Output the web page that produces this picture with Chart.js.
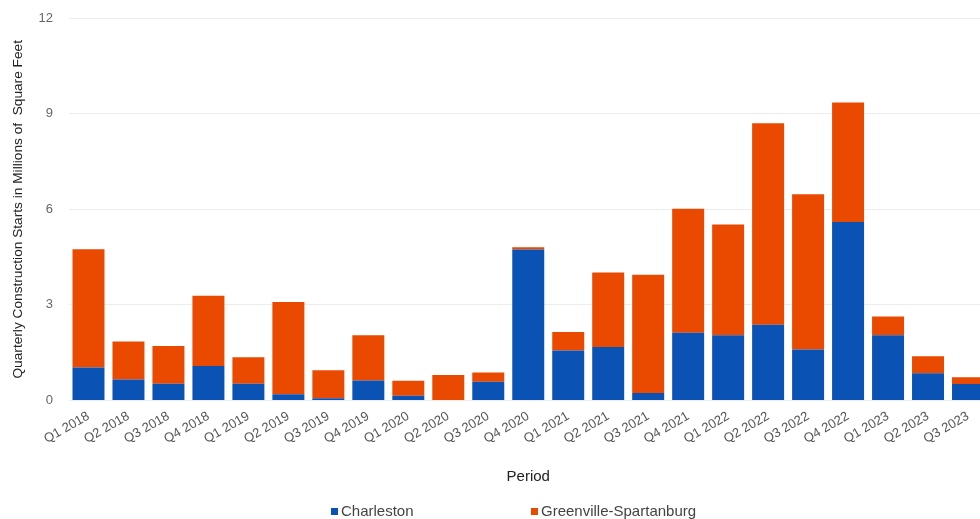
<!DOCTYPE html>
<html>
<head>
<meta charset="utf-8">
<script src="https://cdn.jsdelivr.net/npm/chart.js@4/dist/chart.umd.min.js"></script>
<style>
  html, body { margin: 0; padding: 0; background: #fff; overflow: hidden; width: 980px; height: 519px; }
  #wrap { position: relative; width: 992px; height: 519px; }
  #legend { position: absolute; top: 502px; left: 0; width: 980px; font-family: "Liberation Sans", Arial, sans-serif; font-size: 15px; color: #444; }
  .item { position: absolute; top: 0; white-space: nowrap; }
  .sw { display: inline-block; width: 7px; height: 7px; margin-right: 3px; vertical-align: 1px; }
</style>
</head>
<body>
<div id="wrap">
  <canvas id="c" width="992" height="519"></canvas>
  <div id="legend"></div>
</div>
<script>
const categories = ["Q1 2018","Q2 2018","Q3 2018","Q4 2018","Q1 2019","Q2 2019","Q3 2019","Q4 2019",
  "Q1 2020","Q2 2020","Q3 2020","Q4 2020","Q1 2021","Q2 2021","Q3 2021","Q4 2021",
  "Q1 2022","Q2 2022","Q3 2022","Q4 2022","Q1 2023","Q2 2023","Q3 2023"];
const charleston = [1.04,0.66,0.53,1.08,0.53,0.20,0.07,0.63,0.15,0.00,0.59,4.74,1.57,1.68,0.24,2.13,2.05,2.38,1.60,5.60,2.05,0.86,0.52];
const greenville = [3.71,1.19,1.18,2.21,0.83,2.89,0.88,1.42,0.47,0.80,0.29,0.07,0.58,2.34,3.71,3.89,3.47,6.32,4.87,3.75,0.59,0.53,0.21];
const yTicks = [0,3,6,9,12];
const seriesNames = ["Charleston","Greenville-Spartanburg"];
const seriesColors = ["#0b52b5","#e94a00"];

const FONT = "'Liberation Sans', Arial, sans-serif";
new Chart(document.getElementById('c'), {
  type: 'bar',
  data: {
    labels: categories,
    datasets: [
      { label: seriesNames[0], data: charleston, backgroundColor: seriesColors[0], borderWidth: 0 },
      { label: seriesNames[1], data: greenville, backgroundColor: seriesColors[1], borderWidth: 0 }
    ]
  },
  options: {
    responsive: false,
    animation: false,
    devicePixelRatio: 1,
    layout: { padding: { top: 18, right: 4, left: 5.5, bottom: 33 } },
    plugins: { legend: { display: false }, tooltip: { enabled: false } },
    datasets: { bar: { categoryPercentage: 0.8, barPercentage: 1.0 } },
    scales: {
      x: {
        stacked: true,
        afterFit: (s) => { s.paddingLeft = 0; s.paddingRight = 0; },
        grid: { display: false },
        border: { display: false },
        ticks: { font: { family: FONT, size: 13 }, color: '#555', maxRotation: 30, minRotation: 30, autoSkip: false, padding: 0 },
        title: { display: true, text: 'Period', font: { family: FONT, size: 15 }, color: '#222', padding: { top: 21, bottom: 0 } }
      },
      y: {
        stacked: true,
        min: 0, max: 12,
        afterBuildTicks: (axis) => { axis.ticks = yTicks.map(v => ({ value: v })); },
        afterFit: (s) => { s.width = 63; s.paddingTop = 0; s.paddingBottom = 0; },
        grid: { color: '#ececec', drawTicks: false },
        border: { display: false },
        ticks: { font: { family: FONT, size: 13 }, color: '#666', padding: 15.5 },
        title: { display: true, text: 'Quarterly Construction Starts in Millions of  Square Feet', font: { family: FONT, size: 13.7 }, color: '#222', padding: { top: 4.5, bottom: 2 } }
      }
    }
  }
});

const legend = document.getElementById('legend');
const lpos = [331, 531];
seriesNames.forEach((n, i) => {
  const d = document.createElement('div');
  d.className = 'item';
  d.style.left = lpos[i] + 'px';
  d.innerHTML = '<span class="sw" style="background:' + seriesColors[i] + '"></span>' + n;
  legend.appendChild(d);
});
</script>
</body>
</html>
